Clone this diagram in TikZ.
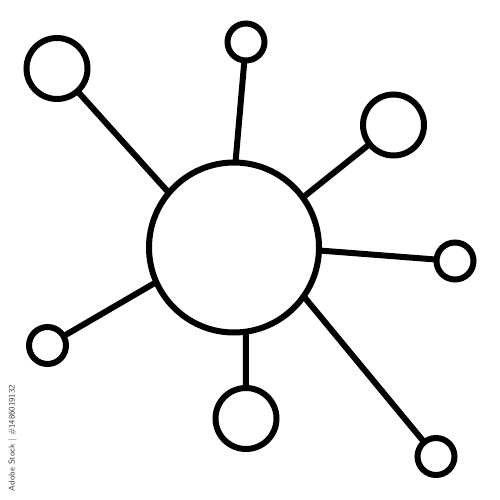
\documentclass[tikz,border=0pt]{standalone}
\begin{document}
\begin{tikzpicture}[x=1pt,y=-1pt,
  hub/.style={circle,draw=black,line width=6pt,fill=white,inner sep=0pt,outer sep=0pt},
  link/.style={line width=6pt,draw=black},
  mark/.style={}]
\useasboundingbox[fill=white] (0,0) rectangle (500,500);
\node[hub,minimum size=170pt] (c) at (234,247.5) {};
\node[hub,minimum size=61pt] (tl) at (57,68.5) {};
\node[hub,minimum size=37pt] (t) at (246,42) {};
\node[hub,minimum size=61pt] (ur) at (393.5,125) {};
\node[hub,minimum size=37pt] (r) at (455,261) {};
\node[hub,minimum size=37pt] (br) at (436,456.5) {};
\node[hub,minimum size=61pt] (b) at (246,418.5) {};
\node[hub,minimum size=37pt] (l) at (47.5,345.5) {};
\draw[link] (tl) -- (c.140.4);
\draw[link] (t) -- (c.89.5);
\draw[link] (ur) -- (c.36.5);
\draw[link] (r) -- (c.-2.9);
\draw[link] (br) -- (c.-35.7);
\draw[link] (b) -- (c.-82.8);
\draw[link] (l) -- (c.204.8);
\node[rotate=90,text=black!75,font=\sffamily\fontsize{8.5}{9}\selectfont,inner sep=0pt] (wm) at (12.5,438) {Adobe Stock | \#1486019132};
\end{tikzpicture}
\end{document}
